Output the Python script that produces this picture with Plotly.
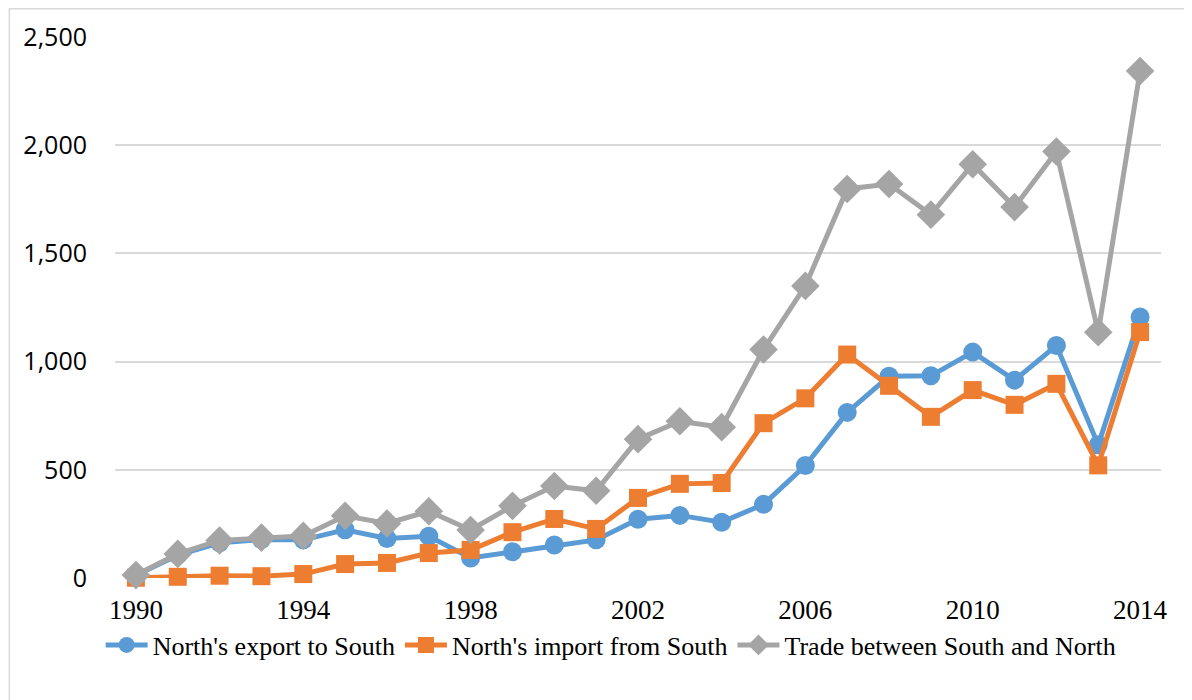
"""
Inter-Korean trade, 1990-2014 (line chart in Excel style)
"""

import plotly.graph_objects as go

years = list(range(1990, 2015))

north_export = [12.3, 105.7, 162.9, 178.2, 176.3, 222.9, 182.4, 193.1, 92.3, 121.6,
                152.4, 176.2, 271.6, 289.3, 258.0, 340.3, 519.5, 765.3, 932.3, 934.3,
                1043.9, 914.3, 1074.0, 615.2, 1206.2]
north_import = [1.2, 5.5, 10.6, 8.4, 18.2, 64.4, 69.6, 115.3, 129.7, 211.8,
                272.8, 226.8, 370.2, 435.0, 439.0, 715.5, 830.2, 1032.6, 888.1, 744.8,
                868.3, 800.2, 897.2, 520.6, 1136.4]
total_trade = [13.5, 111.3, 173.4, 186.6, 194.5, 287.3, 252.0, 308.3, 221.9, 333.4,
               425.1, 403.0, 641.7, 724.2, 697.0, 1055.8, 1349.7, 1797.9, 1820.4, 1679.1,
               1912.2, 1713.9, 1971.1, 1135.8, 2342.6]

x_ticks = [1990, 1994, 1998, 2002, 2006, 2010, 2014]
y_ticks = [0, 500, 1000, 1500, 2000, 2500]

series = [
    ("North's export to South", north_export, '#5B9BD5', 'circle', 19),
    ("North's import from South", north_import, '#ED7D31', 'square', 18),
    ("Trade between South and North", total_trade, '#A5A5A5', 'diamond', 22),
]

fig = go.Figure()
for name, vals, color, symbol, size in series:
    fig.add_trace(go.Scatter(
        x=years, y=vals, name=name, mode='lines+markers',
        line=dict(color=color, width=5),
        marker=dict(symbol=symbol, size=size, color=color),
        cliponaxis=False,
    ))

# page body adds an 8px offset, margins are set relative to that
fig.update_layout(
    width=1192, height=700,
    margin=dict(l=107, r=39, t=29, b=130, autoexpand=False),
    paper_bgcolor='white', plot_bgcolor='white',
    showlegend=True,
    legend=dict(orientation='h', xref='container', yref='container',
                x=0.506, xanchor='center', y=0.09, yanchor='middle',
                font=dict(family='Liberation Serif', size=26, color='black'),
                itemwidth=42, tracegroupgap=0),
    xaxis=dict(range=[1989.5, 2014.5], tickvals=x_ticks, showgrid=False,
               showline=False, zeroline=False, ticks='', ticklabelstandoff=13,
               tickfont=dict(family='Liberation Serif', size=27, color='black')),
    yaxis=dict(range=[0, 2500], tickvals=y_ticks, tickformat=',d',
               showgrid=True, gridcolor='#D9D9D9', gridwidth=1.5,
               zeroline=False, showline=False, ticks='', ticklabelstandoff=27,
               tickfont=dict(family='Open Sans', size=25, color='black')),
    shapes=[dict(type='rect', xref='paper', yref='paper',
                 x0=-0.101, x1=1.05, y0=-0.26, y1=1.052,
                 line=dict(color='#D9D9D9', width=1.5), layer='below')],
)

fig.write_html("out.html")
